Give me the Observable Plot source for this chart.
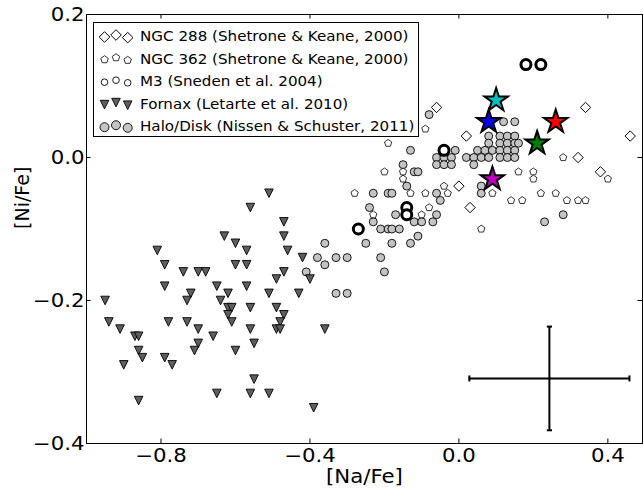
<!DOCTYPE html>
<html><head><meta charset="utf-8">
<script src="https://cdn.jsdelivr.net/npm/d3@7"></script>
<script src="https://cdn.jsdelivr.net/npm/@observablehq/plot@0.6"></script>
<style>
body{margin:0;background:#fff;}
#wrap{position:relative;width:643px;height:491px;font-family:"DejaVu Sans",sans-serif;background:#fff;}
#legend{position:absolute;left:93px;top:22px;width:324px;height:113px;border:1px solid #000;background:#fff;}
#legend .row{position:absolute;left:46px;height:16px;line-height:16px;font-size:13.5px;white-space:nowrap;transform:scaleX(1.12);transform-origin:left center;color:#000;}
#legend svg{position:absolute;left:0;top:0;}
</style></head><body><div id="wrap"></div>
<script>
// ---------- data ----------
const xTicks = [-0.8, -0.4, 0.0, 0.4];
const yTicks = [-0.4, -0.2, 0.0, 0.2];
const xDomain = [-1.0, 0.493];
const yDomain = [-0.4, 0.2];

// NGC 288 (Shetrone & Keane, 2000)
const ngc288Na = [-0.06, 0.02, 0.32, 0.34, 0.46, 0.38, 0.00, 0.03];
const ngc288Ni = [0.07, 0.03, 0.00, 0.07, 0.03, -0.02, -0.04, -0.07];

// NGC 362 (Shetrone & Keane, 2000)
const ngc362Na = [-0.19, -0.09, -0.20, -0.28, -0.13, -0.09, -0.04, -0.03, -0.08, -0.15, -0.15, -0.23, -0.10, 0.06, 0.09, 0.16, 0.20, 0.20, 0.22, 0.26, 0.14, 0.17, 0.29, 0.32, 0.34, 0.28, 0.40];
const ngc362Ni = [0.02, 0.04, -0.02, -0.05, -0.05, -0.05, -0.04, -0.05, -0.07, -0.02, -0.03, -0.08, -0.08, -0.10, -0.05, -0.02, -0.02, -0.03, -0.05, -0.05, -0.06, -0.06, -0.06, -0.06, -0.06, 0.00, -0.03];

// M3 (Sneden et al. 2004)
const m3Na = [-0.04, -0.14, -0.14, -0.27, 0.18, 0.22];
const m3Ni = [0.01, -0.07, -0.08, -0.10, 0.13, 0.13];

// Fornax (Letarte et al. 2010)
const fornaxNa = [-0.51,-0.56,-0.47,-0.47,-0.63,-0.60,-0.81,-0.57,-0.46,-0.79,-0.60,-0.57,-0.42,-0.74,-0.70,-0.68,-0.47,-0.49,-0.40,-0.79,-0.65,-0.57,-0.72,-0.62,-0.51,-0.43,-0.95,-0.73,-0.64,-0.62,-0.61,-0.56,-0.49,-0.62,-0.47,-0.94,-0.78,-0.73,-0.61,-0.48,-0.91,-0.70,-0.56,-0.49,-0.48,-0.36,-0.87,-0.86,-0.66,-0.70,-0.55,-0.86,-0.71,-0.60,-0.85,-0.79,-0.77,-0.90,-0.55,-0.65,-0.56,-0.51,-0.86,-0.39];
const fornaxNi = [-0.05,-0.07,-0.09,-0.11,-0.11,-0.12,-0.13,-0.13,-0.13,-0.15,-0.15,-0.15,-0.14,-0.16,-0.16,-0.16,-0.16,-0.17,-0.17,-0.18,-0.18,-0.18,-0.19,-0.19,-0.19,-0.19,-0.20,-0.20,-0.20,-0.21,-0.21,-0.21,-0.21,-0.22,-0.22,-0.23,-0.23,-0.23,-0.23,-0.23,-0.24,-0.24,-0.24,-0.24,-0.24,-0.24,-0.25,-0.25,-0.25,-0.26,-0.26,-0.27,-0.27,-0.27,-0.28,-0.28,-0.29,-0.29,-0.31,-0.33,-0.33,-0.33,-0.34,-0.35];

// Halo/Disk (Nissen & Schuster, 2011)
const haloNa = [-0.36,-0.38,-0.36,-0.33,-0.41,-0.33,-0.08,-0.13,0.12,0.15,
  0.08,0.11,0.13,0.15, 0.08,0.11,0.13,0.15,0.16, 0.05,0.07,0.09,0.11,0.13,0.15,
  0.02,0.04,0.06,0.08,0.11,0.13,0.15, 0.04,
  -0.06,-0.04,-0.02,-0.01,-0.06,-0.04,-0.02,
  -0.15,-0.12,-0.11,-0.14,-0.23,-0.19,-0.18,-0.06,-0.05,-0.24,0.06,0.06,-0.17,-0.06,-0.12,-0.10,-0.07,-0.23,-0.21,-0.19,-0.18,-0.16,-0.11,-0.25,-0.18,-0.13,0.23,0.28,
  -0.30,-0.20,-0.30,-0.21];
const haloNi = [-0.12,-0.14,-0.15,-0.14,-0.16,-0.19,0.06,0.01,0.05,0.05,
  0.03,0.03,0.03,0.03, 0.02,0.02,0.02,0.02,0.02, 0.01,0.01,0.01,0.01,0.01,0.01,
  0.00,0.00,0.00,0.00,0.00,0.00,0.00, -0.01,
  0.00,0.00,0.00,0.01,-0.01,-0.01,-0.01,
  -0.01,-0.02,-0.02,-0.04,-0.05,-0.05,-0.05,-0.05,-0.06,-0.07,-0.04,-0.05,-0.08,-0.08,-0.09,-0.09,-0.09,-0.09,-0.10,-0.10,-0.10,-0.10,-0.11,-0.12,-0.12,-0.12,-0.09,-0.08,
  -0.14,-0.16,-0.19,-0.14];

// highlighted stars
const starNa = [0.10, 0.08, 0.26, 0.21, 0.09];
const starNi = [0.08, 0.05, 0.05, 0.02, -0.03];
const starColor = ["#00bfbf", "#0000ff", "#ff0000", "#008000", "#bf00bf"];

// typical error bar
const errNa = [0.243], errNi = [-0.309], errNaSize = [0.215], errNiSize = [0.0725];

const seriesLabels = [
  "NGC 288 (Shetrone & Keane, 2000)",
  "NGC 362 (Shetrone & Keane, 2000)",
  "M3 (Sneden et al. 2004)",
  "Fornax (Letarte et al. 2010)",
  "Halo/Disk (Nissen & Schuster, 2011)"
];

// ---------- symbols (radius r = sqrt(size/pi)) ----------
const R = s => Math.sqrt(s / Math.PI);
const symTri = {draw(c, s){const a=R(s); c.moveTo(-a,-a); c.lineTo(a,-a); c.lineTo(0,a); c.closePath();}};
const symPent = {draw(c, s){const r=R(s); for(let i=0;i<5;i++){const t=-Math.PI/2+i*2*Math.PI/5; const px=r*Math.cos(t), py=r*Math.sin(t); if(i) c.lineTo(px,py); else c.moveTo(px,py);} c.closePath();}};
const symDiam = {draw(c, s){const r=R(s); c.moveTo(0,-r); c.lineTo(r,0); c.lineTo(0,r); c.lineTo(-r,0); c.closePath();}};
const symStar = {draw(c, s){const r=R(s), ri=r*0.382; for(let i=0;i<10;i++){const rr=i%2?ri:r; const t=-Math.PI/2+i*Math.PI/5; const px=rr*Math.cos(t), py=rr*Math.sin(t); if(i) c.lineTo(px,py); else c.moveTo(px,py);} c.closePath();}};
const symCirc = {draw(c, s){const r=R(s); c.moveTo(r,0); c.arc(0,0,r,0,2*Math.PI);}};
const symHCap = {draw(c, s){const r=R(s); c.moveTo(-r,0); c.lineTo(r,0);}};
const symVCap = {draw(c, s){const r=R(s); c.moveTo(0,-r); c.lineTo(0,r);}};

const zip = (a, b, extra) => a.map((v, i) => ({x: v, y: b[i], ...(extra ? extra(i) : {})}));
const ngc288 = zip(ngc288Na, ngc288Ni);
const ngc362 = zip(ngc362Na, ngc362Ni);
const m3 = zip(m3Na, m3Ni);
const fornax = zip(fornaxNa, fornaxNi);
const halo = zip(haloNa, haloNi);
const stars = zip(starNa, starNi, i => ({c: starColor[i]}));
const err = zip(errNa, errNi, i => ({ex: errNaSize[i], ey: errNiSize[i]}));

const W = 643, H = 491, ML = 86, MR = 1, MT = 14, MB = 48;
const frameW = W - ML - MR, frameH = H - MT - MB, tickLen = 4.5;
const fmt = d => (d < 0 ? "\u2212" : "") + Math.abs(d).toFixed(1);

const svg = Plot.plot({
  width: W, height: H,
  marginLeft: ML, marginRight: MR, marginTop: MT, marginBottom: MB,
  x: {domain: xDomain},
  y: {domain: yDomain},
  style: {fontFamily: "DejaVu Sans", fontSize: "19px", color: "#000", background: "#fff", overflow: "visible"},
  marks: [
    Plot.axisX(xTicks, {tickSize: 0, tickPadding: 5, tickFormat: fmt, label: null, fontSize: 19}),
    Plot.axisY(yTicks, {tickSize: 0, tickPadding: 2, tickFormat: fmt, label: null, fontSize: 19}),
    Plot.tickX(xTicks, {x: d => d, insetTop: frameH - tickLen, stroke: "#000"}),
    Plot.tickX(xTicks, {x: d => d, insetBottom: frameH - tickLen, stroke: "#000"}),
    Plot.tickY(yTicks, {y: d => d, insetRight: frameW - tickLen, stroke: "#000"}),
    Plot.tickY(yTicks, {y: d => d, insetLeft: frameW - tickLen, stroke: "#000"}),
    Plot.text(["[Na/Fe]"], {frameAnchor: "bottom", dy: 39, fontSize: 19}),
    Plot.text(["[Ni/Fe]"], {frameAnchor: "left", dx: -64, rotate: -90, fontSize: 19}),
    // data
    Plot.dot(halo, {x: "x", y: "y", r: 4, fill: "#c4c4c4", stroke: "#000", strokeWidth: 0.9}),
    Plot.dot(ngc362, {x: "x", y: "y", r: 3.8, symbol: symPent, fill: "#fff", stroke: "#000", strokeWidth: 0.8}),
    Plot.dot(ngc288, {x: "x", y: "y", r: 5.2, symbol: symDiam, fill: "#fff", stroke: "#000", strokeWidth: 1}),
    Plot.dot(fornax, {x: "x", y: "y", r: 4.3, symbol: symTri, fill: "#5e5e5e", stroke: "#000", strokeWidth: 0.9}),
    Plot.dot(m3, {x: "x", y: "y", r: 5, fill: "#fff", stroke: "#000", strokeWidth: 3}),
    Plot.dot(stars, {x: "x", y: "y", r: 12.3, symbol: symStar, fill: "c", stroke: "#000", strokeWidth: 2}),
    // error cross
    Plot.ruleX(err, {x: "x", y1: d => d.y - d.ey, y2: d => d.y + d.ey, stroke: "#000", strokeWidth: 2}),
    Plot.ruleY(err, {y: "y", x1: d => d.x - d.ex, x2: d => d.x + d.ex, stroke: "#000", strokeWidth: 2}),
    Plot.dot(err, {x: "x", y: d => d.y - d.ey, r: 2.6, symbol: symHCap, stroke: "#000", strokeWidth: 2}),
    Plot.dot(err, {x: "x", y: d => d.y + d.ey, r: 2.6, symbol: symHCap, stroke: "#000", strokeWidth: 2}),
    Plot.dot(err, {x: d => d.x - d.ex, y: "y", r: 3, symbol: symVCap, stroke: "#000", strokeWidth: 2}),
    Plot.dot(err, {x: d => d.x + d.ex, y: "y", r: 3, symbol: symVCap, stroke: "#000", strokeWidth: 2}),
    Plot.frame({stroke: "#000", strokeWidth: 1})
  ]
});

const wrap = document.getElementById("wrap");
wrap.appendChild(svg);

// widen horizontal text slightly (the reference's glyphs are horizontally stretched):
// wrap each non-rotated text in a group scaled about its anchor point
Array.from(svg.querySelectorAll("text")).forEach(t => {
  const tr = t.getAttribute("transform") || "";
  if (tr.includes("rotate")) return;
  const parent = t.parentNode;
  const rect = t.getBoundingClientRect();
  const anchor = getComputedStyle(t).textAnchor;
  const sx = anchor === "end" ? rect.right : anchor === "middle" ? (rect.left + rect.right) / 2 : rect.left;
  const inv = parent.getScreenCTM().inverse();
  const p = new DOMPoint(sx, (rect.top + rect.bottom) / 2).matrixTransform(inv);
  const g = document.createElementNS("http://www.w3.org/2000/svg", "g");
  g.setAttribute("transform", `translate(${p.x},0) scale(1.12,1) translate(${-p.x},0)`);
  parent.insertBefore(g, t);
  g.appendChild(t);
});

// ---------- legend ----------
const legendSpec = [
  {symbol: symDiam, r: 5.3, fill: "#fff", sw: 1},
  {symbol: symPent, r: 3.9, fill: "#fff", sw: 0.8},
  {symbol: symCirc, r: 3.3, fill: "#fff", sw: 0.9},
  {symbol: symTri, r: 4.3, fill: "#5e5e5e", sw: 0.9},
  {symbol: symCirc, r: 4.5, fill: "#c4c4c4", sw: 0.9}
];
const rowCenters = [13, 35.6, 58.2, 80.6, 103.2];
const markerX = [10.5, 22, 33.7];
const markerDy = [1, -1, 1.6];
const leg = d3.select(wrap).append("div").attr("id", "legend");
const lsvg = leg.append("svg").attr("width", 45).attr("height", 113);
seriesLabels.forEach((lab, i) => {
  const s = legendSpec[i];
  markerX.forEach((mx, j) => {
    lsvg.append("path")
      .attr("d", d3.symbol(s.symbol, Math.PI * s.r * s.r)())
      .attr("transform", `translate(${mx},${rowCenters[i] + markerDy[j]})`)
      .attr("fill", s.fill).attr("stroke", "#000").attr("stroke-width", s.sw);
  });
  leg.append("div").attr("class", "row").style("top", (rowCenters[i] - 8) + "px").text(lab);
});
</script>
</body></html>
